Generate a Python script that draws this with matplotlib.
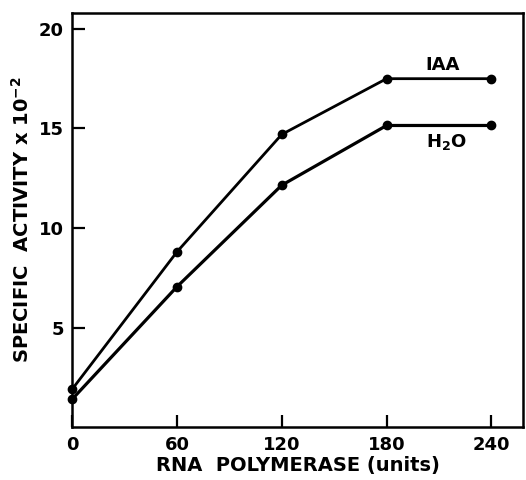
import matplotlib.pyplot as plt

units = [0, 60, 120, 180, 240]
iaa = [1.9, 8.8, 14.7, 17.5, 17.5]
h2o = [1.4, 7.05, 12.15, 15.15, 15.15]

fig = plt.figure(figsize=(5.26, 4.8), dpi=100)
ax = fig.add_axes([0.137, 0.110, 0.857, 0.863])

ax.plot(units, iaa, color='black', lw=2.0, marker='o', ms=6, clip_on=False)
ax.plot(units, h2o, color='black', lw=2.3, marker='o', ms=6, clip_on=False)

ax.text(212, 18.2, 'IAA', fontsize=13, fontweight='bold', ha='center', va='center')
ax.text(214, 14.3, 'H$_\\mathbf{2}$O', fontsize=13, fontweight='bold', ha='center', va='center')

ax.set_xlim(0, 258)
ax.set_ylim(0, 20.8)
ax.set_xticks(units)
ax.set_yticks([5, 10, 15, 20])
ax.tick_params(direction='in', length=9, width=1.6, labelsize=13, pad=6)
for lab in ax.get_xticklabels() + ax.get_yticklabels():
    lab.set_fontweight('bold')
for sp in ax.spines.values():
    sp.set_linewidth(1.8)

ax.set_xlabel('RNA  POLYMERASE (units)', fontsize=14, fontweight='bold', labelpad=2)
ax.set_ylabel('SPECIFIC  ACTIVITY x 10$^{\\mathbf{-2}}$', fontsize=14, fontweight='bold', labelpad=4)

fig.savefig('out.png', dpi=100)
